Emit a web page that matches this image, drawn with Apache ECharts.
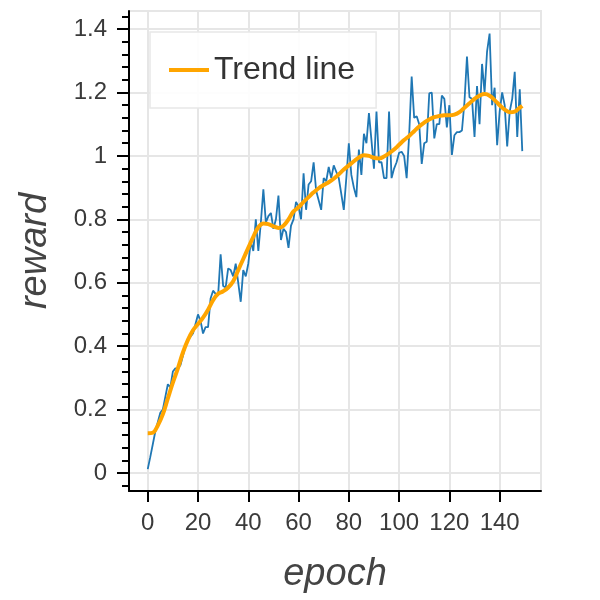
<!DOCTYPE html>
<html>
<head>
<meta charset="utf-8">
<script src="https://cdn.jsdelivr.net/npm/echarts@6/dist/echarts.min.js"></script>
<style>
  html, body { margin: 0; padding: 0; background: #fff; }
  #main { width: 600px; height: 600px; }
</style>
</head>
<body>
<div id="main"></div>
<script>
// reward per epoch (epoch = index)
const rewards = [
    0.012, 0.05, 0.09, 0.13, 0.16, 0.19, 0.20, 0.24, 0.28, 0.27,
    0.32, 0.33, 0.33, 0.34, 0.37, 0.40, 0.42, 0.43, 0.44, 0.47,
    0.50, 0.48, 0.44, 0.46, 0.46, 0.55, 0.575, 0.565, 0.56, 0.69,
    0.59, 0.585, 0.645, 0.64, 0.62, 0.66, 0.60, 0.54, 0.64, 0.62,
    0.66, 0.73, 0.70, 0.80, 0.70, 0.79, 0.895, 0.79, 0.81, 0.82,
    0.77, 0.80, 0.875, 0.735, 0.77, 0.76, 0.71, 0.78, 0.80, 0.855,
    0.84, 0.80, 0.945, 0.83, 0.91, 0.92, 0.98, 0.89, 0.86, 0.83,
    0.93, 0.92, 0.965, 0.93, 0.97, 0.95, 0.93, 0.88, 0.83, 0.93,
    1.04, 0.94, 0.90, 0.87, 1.02, 0.94, 1.07, 1.04, 1.135, 1.05,
    0.96, 1.14, 0.98, 0.98, 0.93, 0.93, 1.14, 0.93, 0.96, 0.98,
    1.01, 1.013, 1.00, 0.93, 1.065, 1.25, 1.12, 1.125, 1.10, 0.975,
    1.04, 1.045, 1.197, 1.20, 1.055, 1.10, 1.10, 1.19, 1.18, 1.09,
    1.16, 1.003, 1.065, 1.075, 1.075, 1.08, 1.17, 1.313, 1.185, 1.18,
    1.06, 1.22, 1.10, 1.29, 1.20, 1.33, 1.386, 1.16, 1.215, 1.034,
    1.14, 1.20, 1.16, 1.03, 1.14, 1.18, 1.265, 1.06, 1.21, 1.015
];

const trendEpochs = [
    0, 2, 4, 6, 8, 10, 12, 14, 16, 18, 20, 22, 24, 26, 28, 30, 32, 34, 36, 38,
    40, 42, 44, 46, 48, 50, 52, 54, 56, 58, 60, 62, 64, 66, 68, 70, 72, 74, 76, 78,
    80, 82, 84, 86, 88, 90, 92, 94, 96, 98, 100, 102, 104, 106, 108, 110, 112, 114, 116, 118,
    120, 122, 124, 126, 128, 130, 132, 134, 136, 138, 140, 142, 144, 146, 148, 149
];
const trendValues = [
    0.125, 0.127, 0.15, 0.185, 0.235, 0.285, 0.33, 0.38, 0.42, 0.45,
    0.47, 0.49, 0.515, 0.545, 0.565, 0.573, 0.585, 0.605, 0.64, 0.675,
    0.71, 0.745, 0.775, 0.787, 0.785, 0.778, 0.773, 0.78, 0.80, 0.825,
    0.838, 0.855, 0.87, 0.885, 0.898, 0.908, 0.917, 0.928, 0.942, 0.957,
    0.97, 0.983, 0.995, 1.002, 1.0, 0.994, 0.992, 0.998, 1.008, 1.02,
    1.035, 1.05, 1.063, 1.078, 1.093, 1.105, 1.115, 1.122, 1.126, 1.128,
    1.128, 1.13, 1.138, 1.152, 1.166, 1.18, 1.19, 1.195, 1.19, 1.176,
    1.16, 1.146, 1.138, 1.14, 1.152, 1.158
];

const xTicks = [0, 20, 40, 60, 80, 100, 120, 140];
const yTicks = [0, 0.2, 0.4, 0.6, 0.8, 1, 1.2, 1.4];

const font = "'Liberation Sans', Arial, Helvetica, sans-serif";
const chart = echarts.init(document.getElementById('main'));

const option = {
    animation: false,
    textStyle: { fontFamily: font },
    grid: {
        left: 129, right: 59, top: 11, bottom: 109,
        show: true,
        borderColor: '#e6e6e6',
        borderWidth: 2
    },
    legend: {
        left: 150, top: 32,
        padding: [22, 21, 22, 19],
        backgroundColor: 'rgba(255,255,255,0.9)',
        borderColor: '#e8e8e8',
        borderWidth: 1.5,
        icon: 'rect',
        itemWidth: 40,
        itemHeight: 4,
        data: ['Trend line'],
        textStyle: { fontSize: 32, color: '#333', fontFamily: font }
    },
    xAxis: {
        type: 'value',
        min: -7.45,
        max: 156.45,
        minInterval: 20,
        maxInterval: 20,
        name: 'epoch',
        nameLocation: 'middle',
        nameGap: 64,
        nameTextStyle: { fontSize: 38, fontStyle: 'italic', color: '#444', fontFamily: font },
        axisLine: { onZero: false, lineStyle: { color: '#000', width: 2 } },
        axisTick: { show: true, length: 11, customValues: xTicks, lineStyle: { color: '#000', width: 2 } },
        axisLabel: { customValues: xTicks, fontSize: 24, color: '#3a3a3a', margin: 20 },
        splitLine: { show: true, lineStyle: { color: '#e6e6e6', width: 2 } }
    },
    yAxis: {
        type: 'value',
        min: -0.0568,
        max: 1.457,
        minInterval: 0.2,
        maxInterval: 0.2,
        name: 'reward',
        nameLocation: 'middle',
        nameGap: 75,
        nameTextStyle: { fontSize: 38, fontStyle: 'italic', color: '#444', fontFamily: font },
        axisLine: { show: true, onZero: false, lineStyle: { color: '#000', width: 2 } },
        axisTick: { show: true, length: 12, customValues: yTicks, lineStyle: { color: '#000', width: 2 } },
        minorTick: { show: true, splitNumber: 5, length: 7, lineStyle: { color: '#000', width: 2 } },
        axisLabel: { customValues: yTicks, fontSize: 24, color: '#3a3a3a', margin: 22 },
        splitLine: { show: true, lineStyle: { color: '#e6e6e6', width: 2 } }
    },
    series: [
        {
            name: 'reward',
            type: 'line',
            symbol: 'none',
            data: rewards.map((v, i) => [i, v]),
            lineStyle: { color: '#1f77b4', width: 1.8 },
            itemStyle: { color: '#1f77b4' },
            z: 2
        },
        {
            name: 'Trend line',
            type: 'line',
            symbol: 'none',
            smooth: 0.4,
            data: trendEpochs.map((e, i) => [e, trendValues[i]]),
            lineStyle: { color: '#ffa500', width: 4 },
            itemStyle: { color: '#ffa500' },
            z: 3
        }
    ]
};

chart.setOption(option);
</script>
</body>
</html>
